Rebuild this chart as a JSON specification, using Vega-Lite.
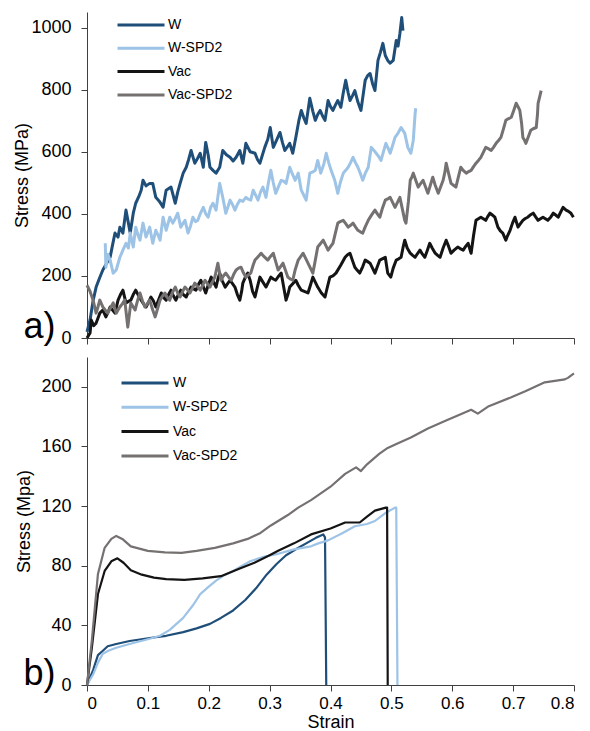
{
"$schema": "https://vega.github.io/schema/vega-lite/v6.json",
"padding": {"left": 13, "top": 12, "right": 2, "bottom": 0},
"spacing": 10,
"config": {
  "view": {"stroke": null},
  "axis": {"domainColor": "#404040", "tickColor": "#404040", "tickSize": 6, "labelFont": "Liberation Sans", "labelFontSize": 18, "labelColor": "#000000", "titleFont": "Liberation Sans", "titleFontSize": 18, "titleFontWeight": "normal", "titleColor": "#000000", "grid": false, "labelPadding": 10},
  "legend": {"labelFont": "Liberation Sans", "labelFontSize": 14, "labelColor": "#000000", "symbolType": "stroke", "symbolSize": 2209, "symbolStrokeWidth": 3, "labelOffset": 2, "clipHeight": 20, "rowPadding": 3.3, "padding": 0}
},
"resolve": {"legend": {"color": "independent"}},
"datasets": {
"top": [
{"series":"W","strain":0,"stress":20},{"series":"W","strain":0.005,"stress":58},{"series":"W","strain":0.01,"stress":120},{"series":"W","strain":0.015,"stress":164},{"series":"W","strain":0.02,"stress":190},{"series":"W","strain":0.026,"stress":219},{"series":"W","strain":0.032,"stress":240},{"series":"W","strain":0.038,"stress":260},{"series":"W","strain":0.042,"stress":300},{"series":"W","strain":0.046,"stress":338},{"series":"W","strain":0.051,"stress":325},{"series":"W","strain":0.054,"stress":357},{"series":"W","strain":0.059,"stress":338},{"series":"W","strain":0.064,"stress":412},{"series":"W","strain":0.068,"stress":370},{"series":"W","strain":0.071,"stress":338},{"series":"W","strain":0.076,"stress":402},{"series":"W","strain":0.08,"stress":434},{"series":"W","strain":0.085,"stress":455},{"series":"W","strain":0.089,"stress":476},{"series":"W","strain":0.092,"stress":508},{"series":"W","strain":0.097,"stress":490},{"series":"W","strain":0.103,"stress":498},{"series":"W","strain":0.108,"stress":498},{"series":"W","strain":0.113,"stress":453},{"series":"W","strain":0.119,"stress":440},{"series":"W","strain":0.125,"stress":421},{"series":"W","strain":0.13,"stress":476},{"series":"W","strain":0.138,"stress":486},{"series":"W","strain":0.145,"stress":434},{"series":"W","strain":0.149,"stress":470},{"series":"W","strain":0.153,"stress":498},{"series":"W","strain":0.158,"stress":531},{"series":"W","strain":0.163,"stress":550},{"series":"W","strain":0.167,"stress":575},{"series":"W","strain":0.171,"stress":604},{"series":"W","strain":0.177,"stress":563},{"series":"W","strain":0.182,"stress":580},{"series":"W","strain":0.186,"stress":595},{"series":"W","strain":0.191,"stress":550},{"series":"W","strain":0.195,"stress":630},{"series":"W","strain":0.199,"stress":590},{"series":"W","strain":0.202,"stress":550},{"series":"W","strain":0.207,"stress":540},{"series":"W","strain":0.212,"stress":531},{"series":"W","strain":0.218,"stress":550},{"series":"W","strain":0.223,"stress":604},{"series":"W","strain":0.229,"stress":590},{"series":"W","strain":0.235,"stress":582},{"series":"W","strain":0.24,"stress":570},{"series":"W","strain":0.245,"stress":582},{"series":"W","strain":0.251,"stress":604},{"series":"W","strain":0.256,"stress":563},{"series":"W","strain":0.261,"stress":627},{"series":"W","strain":0.268,"stress":600},{"series":"W","strain":0.276,"stress":595},{"series":"W","strain":0.28,"stress":575},{"series":"W","strain":0.284,"stress":563},{"series":"W","strain":0.292,"stress":614},{"series":"W","strain":0.297,"stress":640},{"series":"W","strain":0.301,"stress":678},{"series":"W","strain":0.306,"stress":614},{"series":"W","strain":0.312,"stress":640},{"series":"W","strain":0.317,"stress":662},{"series":"W","strain":0.321,"stress":630},{"series":"W","strain":0.325,"stress":604},{"series":"W","strain":0.333,"stress":627},{"series":"W","strain":0.338,"stress":595},{"series":"W","strain":0.343,"stress":646},{"series":"W","strain":0.348,"stress":700},{"series":"W","strain":0.352,"stress":733},{"series":"W","strain":0.356,"stress":710},{"series":"W","strain":0.36,"stress":691},{"series":"W","strain":0.366,"stress":772},{"series":"W","strain":0.371,"stress":730},{"series":"W","strain":0.375,"stress":701},{"series":"W","strain":0.379,"stress":720},{"series":"W","strain":0.383,"stress":733},{"series":"W","strain":0.387,"stress":715},{"series":"W","strain":0.391,"stress":701},{"series":"W","strain":0.396,"stress":765},{"series":"W","strain":0.4,"stress":745},{"series":"W","strain":0.404,"stress":733},{"series":"W","strain":0.408,"stress":750},{"series":"W","strain":0.412,"stress":765},{"series":"W","strain":0.417,"stress":743},{"series":"W","strain":0.421,"stress":790},{"series":"W","strain":0.425,"stress":830},{"series":"W","strain":0.429,"stress":790},{"series":"W","strain":0.432,"stress":765},{"series":"W","strain":0.436,"stress":780},{"series":"W","strain":0.44,"stress":797},{"series":"W","strain":0.445,"stress":760},{"series":"W","strain":0.45,"stress":733},{"series":"W","strain":0.457,"stress":830},{"series":"W","strain":0.461,"stress":845},{"series":"W","strain":0.465,"stress":852},{"series":"W","strain":0.469,"stress":820},{"series":"W","strain":0.473,"stress":797},{"series":"W","strain":0.478,"stress":894},{"series":"W","strain":0.482,"stress":920},{"series":"W","strain":0.486,"stress":949},{"series":"W","strain":0.49,"stress":910},{"series":"W","strain":0.494,"stress":894},{"series":"W","strain":0.498,"stress":885},{"series":"W","strain":0.503,"stress":894},{"series":"W","strain":0.508,"stress":958},{"series":"W","strain":0.511,"stress":940},{"series":"W","strain":0.514,"stress":981},{"series":"W","strain":0.517,"stress":1032},{"series":"W","strain":0.519,"stress":990},
{"series":"W-SPD2","strain":0.03,"stress":305},{"series":"W-SPD2","strain":0.031,"stress":228},{"series":"W-SPD2","strain":0.034,"stress":270},{"series":"W-SPD2","strain":0.038,"stress":251},{"series":"W-SPD2","strain":0.043,"stress":209},{"series":"W-SPD2","strain":0.048,"stress":219},{"series":"W-SPD2","strain":0.054,"stress":260},{"series":"W-SPD2","strain":0.059,"stress":283},{"series":"W-SPD2","strain":0.064,"stress":305},{"series":"W-SPD2","strain":0.068,"stress":290},{"series":"W-SPD2","strain":0.071,"stress":338},{"series":"W-SPD2","strain":0.076,"stress":293},{"series":"W-SPD2","strain":0.08,"stress":357},{"series":"W-SPD2","strain":0.084,"stress":330},{"series":"W-SPD2","strain":0.087,"stress":315},{"series":"W-SPD2","strain":0.092,"stress":370},{"series":"W-SPD2","strain":0.097,"stress":325},{"series":"W-SPD2","strain":0.103,"stress":357},{"series":"W-SPD2","strain":0.108,"stress":305},{"series":"W-SPD2","strain":0.113,"stress":347},{"series":"W-SPD2","strain":0.117,"stress":330},{"series":"W-SPD2","strain":0.12,"stress":315},{"series":"W-SPD2","strain":0.125,"stress":389},{"series":"W-SPD2","strain":0.13,"stress":347},{"series":"W-SPD2","strain":0.136,"stress":389},{"series":"W-SPD2","strain":0.141,"stress":370},{"series":"W-SPD2","strain":0.145,"stress":385},{"series":"W-SPD2","strain":0.149,"stress":402},{"series":"W-SPD2","strain":0.154,"stress":357},{"series":"W-SPD2","strain":0.158,"stress":370},{"series":"W-SPD2","strain":0.161,"stress":379},{"series":"W-SPD2","strain":0.166,"stress":338},{"series":"W-SPD2","strain":0.17,"stress":360},{"series":"W-SPD2","strain":0.174,"stress":389},{"series":"W-SPD2","strain":0.178,"stress":375},{"series":"W-SPD2","strain":0.182,"stress":379},{"series":"W-SPD2","strain":0.186,"stress":400},{"series":"W-SPD2","strain":0.191,"stress":421},{"series":"W-SPD2","strain":0.195,"stress":400},{"series":"W-SPD2","strain":0.199,"stress":389},{"series":"W-SPD2","strain":0.203,"stress":420},{"series":"W-SPD2","strain":0.207,"stress":434},{"series":"W-SPD2","strain":0.212,"stress":412},{"series":"W-SPD2","strain":0.218,"stress":498},{"series":"W-SPD2","strain":0.223,"stress":453},{"series":"W-SPD2","strain":0.228,"stress":402},{"series":"W-SPD2","strain":0.232,"stress":425},{"series":"W-SPD2","strain":0.235,"stress":444},{"series":"W-SPD2","strain":0.239,"stress":430},{"series":"W-SPD2","strain":0.243,"stress":412},{"series":"W-SPD2","strain":0.247,"stress":430},{"series":"W-SPD2","strain":0.251,"stress":444},{"series":"W-SPD2","strain":0.256,"stress":440},{"series":"W-SPD2","strain":0.261,"stress":453},{"series":"W-SPD2","strain":0.265,"stress":447},{"series":"W-SPD2","strain":0.269,"stress":444},{"series":"W-SPD2","strain":0.273,"stress":476},{"series":"W-SPD2","strain":0.277,"stress":460},{"series":"W-SPD2","strain":0.281,"stress":444},{"series":"W-SPD2","strain":0.285,"stress":470},{"series":"W-SPD2","strain":0.289,"stress":486},{"series":"W-SPD2","strain":0.294,"stress":453},{"series":"W-SPD2","strain":0.298,"stress":500},{"series":"W-SPD2","strain":0.302,"stress":540},{"series":"W-SPD2","strain":0.306,"stress":500},{"series":"W-SPD2","strain":0.31,"stress":466},{"series":"W-SPD2","strain":0.315,"stress":490},{"series":"W-SPD2","strain":0.319,"stress":508},{"series":"W-SPD2","strain":0.323,"stress":505},{"series":"W-SPD2","strain":0.327,"stress":498},{"series":"W-SPD2","strain":0.333,"stress":550},{"series":"W-SPD2","strain":0.337,"stress":530},{"series":"W-SPD2","strain":0.342,"stress":508},{"series":"W-SPD2","strain":0.347,"stress":531},{"series":"W-SPD2","strain":0.352,"stress":476},{"series":"W-SPD2","strain":0.356,"stress":460},{"series":"W-SPD2","strain":0.36,"stress":444},{"series":"W-SPD2","strain":0.366,"stress":531},{"series":"W-SPD2","strain":0.371,"stress":535},{"series":"W-SPD2","strain":0.375,"stress":540},{"series":"W-SPD2","strain":0.379,"stress":572},{"series":"W-SPD2","strain":0.384,"stress":531},{"series":"W-SPD2","strain":0.389,"stress":560},{"series":"W-SPD2","strain":0.393,"stress":595},{"series":"W-SPD2","strain":0.397,"stress":565},{"series":"W-SPD2","strain":0.401,"stress":540},{"series":"W-SPD2","strain":0.407,"stress":508},{"series":"W-SPD2","strain":0.412,"stress":466},{"series":"W-SPD2","strain":0.416,"stress":500},{"series":"W-SPD2","strain":0.421,"stress":531},{"series":"W-SPD2","strain":0.425,"stress":540},{"series":"W-SPD2","strain":0.429,"stress":550},{"series":"W-SPD2","strain":0.433,"stress":565},{"series":"W-SPD2","strain":0.437,"stress":582},{"series":"W-SPD2","strain":0.441,"stress":565},{"series":"W-SPD2","strain":0.445,"stress":550},{"series":"W-SPD2","strain":0.449,"stress":530},{"series":"W-SPD2","strain":0.453,"stress":508},{"series":"W-SPD2","strain":0.457,"stress":530},{"series":"W-SPD2","strain":0.462,"stress":550},{"series":"W-SPD2","strain":0.467,"stress":614},{"series":"W-SPD2","strain":0.471,"stress":605},{"series":"W-SPD2","strain":0.475,"stress":595},{"series":"W-SPD2","strain":0.479,"stress":585},{"series":"W-SPD2","strain":0.483,"stress":572},{"series":"W-SPD2","strain":0.487,"stress":600},{"series":"W-SPD2","strain":0.491,"stress":627},{"series":"W-SPD2","strain":0.495,"stress":610},{"series":"W-SPD2","strain":0.498,"stress":595},{"series":"W-SPD2","strain":0.502,"stress":620},{"series":"W-SPD2","strain":0.506,"stress":646},{"series":"W-SPD2","strain":0.511,"stress":660},{"series":"W-SPD2","strain":0.516,"stress":678},{"series":"W-SPD2","strain":0.522,"stress":659},{"series":"W-SPD2","strain":0.527,"stress":614},{"series":"W-SPD2","strain":0.532,"stress":595},{"series":"W-SPD2","strain":0.536,"stress":637},{"series":"W-SPD2","strain":0.539,"stress":723},{"series":"W-SPD2","strain":0.54,"stress":740},
{"series":"Vac","strain":0,"stress":0},{"series":"Vac","strain":0.005,"stress":16},{"series":"Vac","strain":0.007,"stress":58},{"series":"Vac","strain":0.011,"stress":40},{"series":"Vac","strain":0.015,"stress":48},{"series":"Vac","strain":0.021,"stress":80},{"series":"Vac","strain":0.026,"stress":90},{"series":"Vac","strain":0.031,"stress":68},{"series":"Vac","strain":0.035,"stress":85},{"series":"Vac","strain":0.038,"stress":100},{"series":"Vac","strain":0.042,"stress":90},{"series":"Vac","strain":0.046,"stress":80},{"series":"Vac","strain":0.051,"stress":122},{"series":"Vac","strain":0.055,"stress":140},{"series":"Vac","strain":0.059,"stress":154},{"series":"Vac","strain":0.064,"stress":113},{"series":"Vac","strain":0.068,"stress":118},{"series":"Vac","strain":0.072,"stress":122},{"series":"Vac","strain":0.076,"stress":140},{"series":"Vac","strain":0.08,"stress":154},{"series":"Vac","strain":0.085,"stress":135},{"series":"Vac","strain":0.089,"stress":122},{"series":"Vac","strain":0.093,"stress":110},{"series":"Vac","strain":0.097,"stress":100},{"series":"Vac","strain":0.101,"stress":115},{"series":"Vac","strain":0.105,"stress":132},{"series":"Vac","strain":0.109,"stress":120},{"series":"Vac","strain":0.113,"stress":100},{"series":"Vac","strain":0.118,"stress":125},{"series":"Vac","strain":0.122,"stress":145},{"series":"Vac","strain":0.126,"stress":130},{"series":"Vac","strain":0.13,"stress":122},{"series":"Vac","strain":0.134,"stress":140},{"series":"Vac","strain":0.138,"stress":154},{"series":"Vac","strain":0.142,"stress":135},{"series":"Vac","strain":0.146,"stress":122},{"series":"Vac","strain":0.15,"stress":140},{"series":"Vac","strain":0.154,"stress":154},{"series":"Vac","strain":0.158,"stress":140},{"series":"Vac","strain":0.163,"stress":132},{"series":"Vac","strain":0.167,"stress":150},{"series":"Vac","strain":0.171,"stress":164},{"series":"Vac","strain":0.175,"stress":158},{"series":"Vac","strain":0.179,"stress":154},{"series":"Vac","strain":0.183,"stress":172},{"series":"Vac","strain":0.187,"stress":186},{"series":"Vac","strain":0.191,"stress":165},{"series":"Vac","strain":0.195,"stress":145},{"series":"Vac","strain":0.199,"stress":170},{"series":"Vac","strain":0.204,"stress":196},{"series":"Vac","strain":0.208,"stress":180},{"series":"Vac","strain":0.212,"stress":164},{"series":"Vac","strain":0.215,"stress":190},{"series":"Vac","strain":0.218,"stress":209},{"series":"Vac","strain":0.222,"stress":185},{"series":"Vac","strain":0.227,"stress":164},{"series":"Vac","strain":0.231,"stress":175},{"series":"Vac","strain":0.235,"stress":186},{"series":"Vac","strain":0.239,"stress":175},{"series":"Vac","strain":0.243,"stress":164},{"series":"Vac","strain":0.247,"stress":140},{"series":"Vac","strain":0.251,"stress":122},{"series":"Vac","strain":0.254,"stress":150},{"series":"Vac","strain":0.256,"stress":177},{"series":"Vac","strain":0.26,"stress":195},{"series":"Vac","strain":0.264,"stress":209},{"series":"Vac","strain":0.268,"stress":186},{"series":"Vac","strain":0.272,"stress":150},{"series":"Vac","strain":0.276,"stress":132},{"series":"Vac","strain":0.28,"stress":165},{"series":"Vac","strain":0.284,"stress":196},{"series":"Vac","strain":0.289,"stress":180},{"series":"Vac","strain":0.294,"stress":164},{"series":"Vac","strain":0.298,"stress":180},{"series":"Vac","strain":0.302,"stress":196},{"series":"Vac","strain":0.306,"stress":190},{"series":"Vac","strain":0.31,"stress":186},{"series":"Vac","strain":0.315,"stress":200},{"series":"Vac","strain":0.319,"stress":209},{"series":"Vac","strain":0.323,"stress":165},{"series":"Vac","strain":0.327,"stress":122},{"series":"Vac","strain":0.33,"stress":140},{"series":"Vac","strain":0.333,"stress":164},{"series":"Vac","strain":0.338,"stress":175},{"series":"Vac","strain":0.343,"stress":186},{"series":"Vac","strain":0.347,"stress":170},{"series":"Vac","strain":0.352,"stress":154},{"series":"Vac","strain":0.357,"stress":150},{"series":"Vac","strain":0.363,"stress":145},{"series":"Vac","strain":0.367,"stress":170},{"series":"Vac","strain":0.371,"stress":196},{"series":"Vac","strain":0.375,"stress":180},{"series":"Vac","strain":0.379,"stress":164},{"series":"Vac","strain":0.385,"stress":145},{"series":"Vac","strain":0.391,"stress":132},{"series":"Vac","strain":0.395,"stress":165},{"series":"Vac","strain":0.399,"stress":196},{"series":"Vac","strain":0.404,"stress":200},{"series":"Vac","strain":0.409,"stress":209},{"series":"Vac","strain":0.417,"stress":235},{"series":"Vac","strain":0.424,"stress":260},{"series":"Vac","strain":0.428,"stress":268},{"series":"Vac","strain":0.432,"stress":273},{"series":"Vac","strain":0.436,"stress":250},{"series":"Vac","strain":0.44,"stress":228},{"series":"Vac","strain":0.444,"stress":218},{"series":"Vac","strain":0.448,"stress":209},{"series":"Vac","strain":0.453,"stress":230},{"series":"Vac","strain":0.457,"stress":251},{"series":"Vac","strain":0.461,"stress":246},{"series":"Vac","strain":0.465,"stress":241},{"series":"Vac","strain":0.469,"stress":225},{"series":"Vac","strain":0.473,"stress":209},{"series":"Vac","strain":0.477,"stress":230},{"series":"Vac","strain":0.481,"stress":251},{"series":"Vac","strain":0.485,"stress":255},{"series":"Vac","strain":0.49,"stress":260},{"series":"Vac","strain":0.494,"stress":209},{"series":"Vac","strain":0.499,"stress":196},{"series":"Vac","strain":0.503,"stress":225},{"series":"Vac","strain":0.508,"stress":251},{"series":"Vac","strain":0.512,"stress":255},{"series":"Vac","strain":0.516,"stress":260},{"series":"Vac","strain":0.519,"stress":290},{"series":"Vac","strain":0.522,"stress":315},{"series":"Vac","strain":0.526,"stress":290},{"series":"Vac","strain":0.531,"stress":273},{"series":"Vac","strain":0.535,"stress":266},{"series":"Vac","strain":0.539,"stress":260},{"series":"Vac","strain":0.543,"stress":272},{"series":"Vac","strain":0.547,"stress":283},{"series":"Vac","strain":0.551,"stress":270},{"series":"Vac","strain":0.555,"stress":260},{"series":"Vac","strain":0.559,"stress":282},{"series":"Vac","strain":0.563,"stress":305},{"series":"Vac","strain":0.567,"stress":290},{"series":"Vac","strain":0.572,"stress":273},{"series":"Vac","strain":0.576,"stress":266},{"series":"Vac","strain":0.58,"stress":260},{"series":"Vac","strain":0.585,"stress":290},{"series":"Vac","strain":0.59,"stress":315},{"series":"Vac","strain":0.594,"stress":295},{"series":"Vac","strain":0.598,"stress":273},{"series":"Vac","strain":0.603,"stress":283},{"series":"Vac","strain":0.609,"stress":293},{"series":"Vac","strain":0.613,"stress":288},{"series":"Vac","strain":0.618,"stress":283},{"series":"Vac","strain":0.622,"stress":295},{"series":"Vac","strain":0.626,"stress":305},{"series":"Vac","strain":0.631,"stress":273},{"series":"Vac","strain":0.635,"stress":330},{"series":"Vac","strain":0.639,"stress":379},{"series":"Vac","strain":0.643,"stress":384},{"series":"Vac","strain":0.647,"stress":389},{"series":"Vac","strain":0.651,"stress":384},{"series":"Vac","strain":0.655,"stress":379},{"series":"Vac","strain":0.658,"stress":390},{"series":"Vac","strain":0.662,"stress":402},{"series":"Vac","strain":0.666,"stress":396},{"series":"Vac","strain":0.67,"stress":389},{"series":"Vac","strain":0.675,"stress":357},{"series":"Vac","strain":0.679,"stress":345},{"series":"Vac","strain":0.683,"stress":338},{"series":"Vac","strain":0.688,"stress":315},{"series":"Vac","strain":0.691,"stress":330},{"series":"Vac","strain":0.695,"stress":347},{"series":"Vac","strain":0.699,"stress":370},{"series":"Vac","strain":0.703,"stress":389},{"series":"Vac","strain":0.708,"stress":357},{"series":"Vac","strain":0.712,"stress":368},{"series":"Vac","strain":0.716,"stress":379},{"series":"Vac","strain":0.72,"stress":385},{"series":"Vac","strain":0.724,"stress":389},{"series":"Vac","strain":0.728,"stress":396},{"series":"Vac","strain":0.733,"stress":402},{"series":"Vac","strain":0.737,"stress":390},{"series":"Vac","strain":0.741,"stress":379},{"series":"Vac","strain":0.745,"stress":384},{"series":"Vac","strain":0.749,"stress":389},{"series":"Vac","strain":0.753,"stress":384},{"series":"Vac","strain":0.757,"stress":379},{"series":"Vac","strain":0.762,"stress":390},{"series":"Vac","strain":0.766,"stress":402},{"series":"Vac","strain":0.77,"stress":396},{"series":"Vac","strain":0.774,"stress":389},{"series":"Vac","strain":0.778,"stress":405},{"series":"Vac","strain":0.782,"stress":421},{"series":"Vac","strain":0.787,"stress":412},{"series":"Vac","strain":0.791,"stress":408},{"series":"Vac","strain":0.795,"stress":402},{"series":"Vac","strain":0.799,"stress":389},
{"series":"Vac-SPD2","strain":0,"stress":170},{"series":"Vac-SPD2","strain":0.005,"stress":150},{"series":"Vac-SPD2","strain":0.01,"stress":122},{"series":"Vac-SPD2","strain":0.015,"stress":80},{"series":"Vac-SPD2","strain":0.018,"stress":100},{"series":"Vac-SPD2","strain":0.021,"stress":122},{"series":"Vac-SPD2","strain":0.026,"stress":100},{"series":"Vac-SPD2","strain":0.03,"stress":90},{"series":"Vac-SPD2","strain":0.034,"stress":80},{"series":"Vac-SPD2","strain":0.038,"stress":95},{"series":"Vac-SPD2","strain":0.043,"stress":113},{"series":"Vac-SPD2","strain":0.048,"stress":80},{"series":"Vac-SPD2","strain":0.051,"stress":90},{"series":"Vac-SPD2","strain":0.054,"stress":100},{"series":"Vac-SPD2","strain":0.058,"stress":110},{"series":"Vac-SPD2","strain":0.062,"stress":122},{"series":"Vac-SPD2","strain":0.067,"stress":35},{"series":"Vac-SPD2","strain":0.072,"stress":113},{"series":"Vac-SPD2","strain":0.076,"stress":100},{"series":"Vac-SPD2","strain":0.079,"stress":90},{"series":"Vac-SPD2","strain":0.083,"stress":120},{"series":"Vac-SPD2","strain":0.087,"stress":145},{"series":"Vac-SPD2","strain":0.091,"stress":120},{"series":"Vac-SPD2","strain":0.095,"stress":100},{"series":"Vac-SPD2","strain":0.099,"stress":110},{"series":"Vac-SPD2","strain":0.103,"stress":122},{"series":"Vac-SPD2","strain":0.108,"stress":90},{"series":"Vac-SPD2","strain":0.112,"stress":68},{"series":"Vac-SPD2","strain":0.116,"stress":95},{"series":"Vac-SPD2","strain":0.12,"stress":122},{"series":"Vac-SPD2","strain":0.124,"stress":135},{"series":"Vac-SPD2","strain":0.128,"stress":145},{"series":"Vac-SPD2","strain":0.132,"stress":130},{"series":"Vac-SPD2","strain":0.136,"stress":122},{"series":"Vac-SPD2","strain":0.14,"stress":145},{"series":"Vac-SPD2","strain":0.145,"stress":164},{"series":"Vac-SPD2","strain":0.149,"stress":145},{"series":"Vac-SPD2","strain":0.153,"stress":132},{"series":"Vac-SPD2","strain":0.157,"stress":150},{"series":"Vac-SPD2","strain":0.161,"stress":164},{"series":"Vac-SPD2","strain":0.165,"stress":155},{"series":"Vac-SPD2","strain":0.169,"stress":145},{"series":"Vac-SPD2","strain":0.173,"stress":160},{"series":"Vac-SPD2","strain":0.177,"stress":177},{"series":"Vac-SPD2","strain":0.182,"stress":165},{"series":"Vac-SPD2","strain":0.186,"stress":154},{"series":"Vac-SPD2","strain":0.19,"stress":170},{"series":"Vac-SPD2","strain":0.194,"stress":186},{"series":"Vac-SPD2","strain":0.198,"stress":175},{"series":"Vac-SPD2","strain":0.202,"stress":164},{"series":"Vac-SPD2","strain":0.206,"stress":180},{"series":"Vac-SPD2","strain":0.21,"stress":196},{"series":"Vac-SPD2","strain":0.215,"stress":241},{"series":"Vac-SPD2","strain":0.22,"stress":186},{"series":"Vac-SPD2","strain":0.224,"stress":200},{"series":"Vac-SPD2","strain":0.228,"stress":209},{"series":"Vac-SPD2","strain":0.233,"stress":195},{"series":"Vac-SPD2","strain":0.237,"stress":186},{"series":"Vac-SPD2","strain":0.241,"stress":205},{"series":"Vac-SPD2","strain":0.245,"stress":219},{"series":"Vac-SPD2","strain":0.249,"stress":225},{"series":"Vac-SPD2","strain":0.253,"stress":228},{"series":"Vac-SPD2","strain":0.257,"stress":210},{"series":"Vac-SPD2","strain":0.261,"stress":196},{"series":"Vac-SPD2","strain":0.265,"stress":203},{"series":"Vac-SPD2","strain":0.269,"stress":209},{"series":"Vac-SPD2","strain":0.273,"stress":235},{"series":"Vac-SPD2","strain":0.276,"stress":251},{"series":"Vac-SPD2","strain":0.281,"stress":262},{"series":"Vac-SPD2","strain":0.286,"stress":273},{"series":"Vac-SPD2","strain":0.291,"stress":262},{"series":"Vac-SPD2","strain":0.297,"stress":251},{"series":"Vac-SPD2","strain":0.301,"stress":262},{"series":"Vac-SPD2","strain":0.306,"stress":273},{"series":"Vac-SPD2","strain":0.31,"stress":246},{"series":"Vac-SPD2","strain":0.314,"stress":219},{"series":"Vac-SPD2","strain":0.318,"stress":230},{"series":"Vac-SPD2","strain":0.322,"stress":241},{"series":"Vac-SPD2","strain":0.326,"stress":218},{"series":"Vac-SPD2","strain":0.33,"stress":196},{"series":"Vac-SPD2","strain":0.334,"stress":190},{"series":"Vac-SPD2","strain":0.338,"stress":186},{"series":"Vac-SPD2","strain":0.342,"stress":220},{"series":"Vac-SPD2","strain":0.347,"stress":251},{"series":"Vac-SPD2","strain":0.351,"stress":262},{"series":"Vac-SPD2","strain":0.355,"stress":273},{"series":"Vac-SPD2","strain":0.359,"stress":257},{"series":"Vac-SPD2","strain":0.363,"stress":241},{"series":"Vac-SPD2","strain":0.367,"stress":225},{"series":"Vac-SPD2","strain":0.371,"stress":209},{"series":"Vac-SPD2","strain":0.375,"stress":250},{"series":"Vac-SPD2","strain":0.379,"stress":293},{"series":"Vac-SPD2","strain":0.384,"stress":305},{"series":"Vac-SPD2","strain":0.388,"stress":315},{"series":"Vac-SPD2","strain":0.392,"stress":299},{"series":"Vac-SPD2","strain":0.396,"stress":283},{"series":"Vac-SPD2","strain":0.4,"stress":294},{"series":"Vac-SPD2","strain":0.404,"stress":305},{"series":"Vac-SPD2","strain":0.408,"stress":338},{"series":"Vac-SPD2","strain":0.412,"stress":370},{"series":"Vac-SPD2","strain":0.416,"stress":375},{"series":"Vac-SPD2","strain":0.421,"stress":379},{"series":"Vac-SPD2","strain":0.425,"stress":368},{"series":"Vac-SPD2","strain":0.429,"stress":357},{"series":"Vac-SPD2","strain":0.433,"stress":363},{"series":"Vac-SPD2","strain":0.437,"stress":370},{"series":"Vac-SPD2","strain":0.441,"stress":358},{"series":"Vac-SPD2","strain":0.445,"stress":347},{"series":"Vac-SPD2","strain":0.449,"stress":342},{"series":"Vac-SPD2","strain":0.453,"stress":338},{"series":"Vac-SPD2","strain":0.457,"stress":358},{"series":"Vac-SPD2","strain":0.462,"stress":379},{"series":"Vac-SPD2","strain":0.467,"stress":395},{"series":"Vac-SPD2","strain":0.473,"stress":412},{"series":"Vac-SPD2","strain":0.477,"stress":400},{"series":"Vac-SPD2","strain":0.481,"stress":389},{"series":"Vac-SPD2","strain":0.485,"stress":416},{"series":"Vac-SPD2","strain":0.49,"stress":444},{"series":"Vac-SPD2","strain":0.494,"stress":448},{"series":"Vac-SPD2","strain":0.498,"stress":453},{"series":"Vac-SPD2","strain":0.502,"stress":437},{"series":"Vac-SPD2","strain":0.506,"stress":421},{"series":"Vac-SPD2","strain":0.51,"stress":437},{"series":"Vac-SPD2","strain":0.514,"stress":453},{"series":"Vac-SPD2","strain":0.518,"stress":416},{"series":"Vac-SPD2","strain":0.522,"stress":379},{"series":"Vac-SPD2","strain":0.524,"stress":370},{"series":"Vac-SPD2","strain":0.528,"stress":440},{"series":"Vac-SPD2","strain":0.531,"stress":508},{"series":"Vac-SPD2","strain":0.534,"stress":520},{"series":"Vac-SPD2","strain":0.536,"stress":531},{"series":"Vac-SPD2","strain":0.54,"stress":508},{"series":"Vac-SPD2","strain":0.544,"stress":486},{"series":"Vac-SPD2","strain":0.548,"stress":497},{"series":"Vac-SPD2","strain":0.552,"stress":508},{"series":"Vac-SPD2","strain":0.556,"stress":487},{"series":"Vac-SPD2","strain":0.56,"stress":466},{"series":"Vac-SPD2","strain":0.564,"stress":492},{"series":"Vac-SPD2","strain":0.568,"stress":518},{"series":"Vac-SPD2","strain":0.572,"stress":492},{"series":"Vac-SPD2","strain":0.577,"stress":466},{"series":"Vac-SPD2","strain":0.581,"stress":487},{"series":"Vac-SPD2","strain":0.585,"stress":508},{"series":"Vac-SPD2","strain":0.588,"stress":535},{"series":"Vac-SPD2","strain":0.59,"stress":563},{"series":"Vac-SPD2","strain":0.594,"stress":530},{"series":"Vac-SPD2","strain":0.598,"stress":498},{"series":"Vac-SPD2","strain":0.602,"stress":492},{"series":"Vac-SPD2","strain":0.606,"stress":486},{"series":"Vac-SPD2","strain":0.61,"stress":518},{"series":"Vac-SPD2","strain":0.614,"stress":550},{"series":"Vac-SPD2","strain":0.618,"stress":540},{"series":"Vac-SPD2","strain":0.623,"stress":531},{"series":"Vac-SPD2","strain":0.627,"stress":536},{"series":"Vac-SPD2","strain":0.631,"stress":540},{"series":"Vac-SPD2","strain":0.635,"stress":552},{"series":"Vac-SPD2","strain":0.639,"stress":563},{"series":"Vac-SPD2","strain":0.643,"stress":572},{"series":"Vac-SPD2","strain":0.647,"stress":582},{"series":"Vac-SPD2","strain":0.651,"stress":598},{"series":"Vac-SPD2","strain":0.655,"stress":614},{"series":"Vac-SPD2","strain":0.66,"stress":609},{"series":"Vac-SPD2","strain":0.664,"stress":604},{"series":"Vac-SPD2","strain":0.668,"stress":615},{"series":"Vac-SPD2","strain":0.672,"stress":627},{"series":"Vac-SPD2","strain":0.676,"stress":636},{"series":"Vac-SPD2","strain":0.68,"stress":646},{"series":"Vac-SPD2","strain":0.684,"stress":673},{"series":"Vac-SPD2","strain":0.688,"stress":701},{"series":"Vac-SPD2","strain":0.692,"stress":706},{"series":"Vac-SPD2","strain":0.697,"stress":711},{"series":"Vac-SPD2","strain":0.701,"stress":733},{"series":"Vac-SPD2","strain":0.705,"stress":756},{"series":"Vac-SPD2","strain":0.708,"stress":745},{"series":"Vac-SPD2","strain":0.711,"stress":733},{"series":"Vac-SPD2","strain":0.714,"stress":690},{"series":"Vac-SPD2","strain":0.716,"stress":646},{"series":"Vac-SPD2","strain":0.719,"stress":636},{"series":"Vac-SPD2","strain":0.721,"stress":627},{"series":"Vac-SPD2","strain":0.725,"stress":648},{"series":"Vac-SPD2","strain":0.729,"stress":669},{"series":"Vac-SPD2","strain":0.733,"stress":674},{"series":"Vac-SPD2","strain":0.738,"stress":678},{"series":"Vac-SPD2","strain":0.74,"stress":720},{"series":"Vac-SPD2","strain":0.741,"stress":756},{"series":"Vac-SPD2","strain":0.744,"stress":780},{"series":"Vac-SPD2","strain":0.746,"stress":797}
],
"bottom": [
{"series":"W","strain":0,"stress":0},{"series":"W","strain":0.01,"stress":10},{"series":"W","strain":0.018,"stress":20},{"series":"W","strain":0.026,"stress":23},{"series":"W","strain":0.034,"stress":26},{"series":"W","strain":0.048,"stress":27.5},{"series":"W","strain":0.07,"stress":29.5},{"series":"W","strain":0.103,"stress":31.5},{"series":"W","strain":0.13,"stress":33},{"series":"W","strain":0.158,"stress":35.5},{"series":"W","strain":0.18,"stress":38},{"series":"W","strain":0.202,"stress":41},{"series":"W","strain":0.22,"stress":45},{"series":"W","strain":0.24,"stress":50},{"series":"W","strain":0.26,"stress":57},{"series":"W","strain":0.278,"stress":65},{"series":"W","strain":0.295,"stress":74},{"series":"W","strain":0.311,"stress":81},{"series":"W","strain":0.327,"stress":87},{"series":"W","strain":0.343,"stress":91},{"series":"W","strain":0.36,"stress":95},{"series":"W","strain":0.376,"stress":98.7},{"series":"W","strain":0.388,"stress":101},{"series":"W","strain":0.391,"stress":99},{"series":"W","strain":0.392,"stress":50},{"series":"W","strain":0.393,"stress":0},
{"series":"W-SPD2","strain":0,"stress":0},{"series":"W-SPD2","strain":0.01,"stress":7},{"series":"W-SPD2","strain":0.018,"stress":15},{"series":"W-SPD2","strain":0.026,"stress":21},{"series":"W-SPD2","strain":0.035,"stress":23},{"series":"W-SPD2","strain":0.048,"stress":25},{"series":"W-SPD2","strain":0.07,"stress":27.5},{"series":"W-SPD2","strain":0.103,"stress":31},{"series":"W-SPD2","strain":0.12,"stress":33},{"series":"W-SPD2","strain":0.136,"stress":37},{"series":"W-SPD2","strain":0.158,"stress":45},{"series":"W-SPD2","strain":0.175,"stress":54},{"series":"W-SPD2","strain":0.186,"stress":61},{"series":"W-SPD2","strain":0.2,"stress":66},{"series":"W-SPD2","strain":0.212,"stress":70},{"series":"W-SPD2","strain":0.225,"stress":73.5},{"series":"W-SPD2","strain":0.24,"stress":76.5},{"series":"W-SPD2","strain":0.255,"stress":80},{"series":"W-SPD2","strain":0.268,"stress":83},{"series":"W-SPD2","strain":0.29,"stress":86},{"series":"W-SPD2","strain":0.314,"stress":88},{"series":"W-SPD2","strain":0.34,"stress":91},{"series":"W-SPD2","strain":0.368,"stress":93},{"series":"W-SPD2","strain":0.38,"stress":95},{"series":"W-SPD2","strain":0.396,"stress":97},{"series":"W-SPD2","strain":0.42,"stress":102},{"series":"W-SPD2","strain":0.44,"stress":106.5},{"series":"W-SPD2","strain":0.46,"stress":108},{"series":"W-SPD2","strain":0.473,"stress":110},{"series":"W-SPD2","strain":0.489,"stress":115},{"series":"W-SPD2","strain":0.506,"stress":119},{"series":"W-SPD2","strain":0.508,"stress":119},{"series":"W-SPD2","strain":0.509,"stress":60},{"series":"W-SPD2","strain":0.51,"stress":0},
{"series":"Vac","strain":0,"stress":0},{"series":"Vac","strain":0.008,"stress":25},{"series":"Vac","strain":0.018,"stress":61},{"series":"Vac","strain":0.029,"stress":76.5},{"series":"Vac","strain":0.04,"stress":83},{"series":"Vac","strain":0.05,"stress":85},{"series":"Vac","strain":0.06,"stress":82},{"series":"Vac","strain":0.072,"stress":77},{"series":"Vac","strain":0.09,"stress":74},{"series":"Vac","strain":0.11,"stress":72},{"series":"Vac","strain":0.13,"stress":71},{"series":"Vac","strain":0.16,"stress":70.5},{"series":"Vac","strain":0.19,"stress":71.5},{"series":"Vac","strain":0.22,"stress":73},{"series":"Vac","strain":0.25,"stress":78},{"series":"Vac","strain":0.275,"stress":82},{"series":"Vac","strain":0.3,"stress":87},{"series":"Vac","strain":0.314,"stress":90},{"series":"Vac","strain":0.34,"stress":95},{"series":"Vac","strain":0.368,"stress":101},{"series":"Vac","strain":0.4,"stress":105},{"series":"Vac","strain":0.424,"stress":109},{"series":"Vac","strain":0.448,"stress":109},{"series":"Vac","strain":0.46,"stress":113},{"series":"Vac","strain":0.473,"stress":117},{"series":"Vac","strain":0.491,"stress":119},{"series":"Vac","strain":0.493,"stress":119},{"series":"Vac","strain":0.494,"stress":0},
{"series":"Vac-SPD2","strain":0,"stress":0},{"series":"Vac-SPD2","strain":0.008,"stress":30},{"series":"Vac-SPD2","strain":0.018,"stress":74.5},{"series":"Vac-SPD2","strain":0.029,"stress":92},{"series":"Vac-SPD2","strain":0.04,"stress":98},{"series":"Vac-SPD2","strain":0.048,"stress":100},{"series":"Vac-SPD2","strain":0.058,"stress":98},{"series":"Vac-SPD2","strain":0.072,"stress":93},{"series":"Vac-SPD2","strain":0.1,"stress":90},{"series":"Vac-SPD2","strain":0.128,"stress":89},{"series":"Vac-SPD2","strain":0.155,"stress":88.6},{"series":"Vac-SPD2","strain":0.18,"stress":90},{"series":"Vac-SPD2","strain":0.21,"stress":92},{"series":"Vac-SPD2","strain":0.24,"stress":95},{"series":"Vac-SPD2","strain":0.264,"stress":98},{"series":"Vac-SPD2","strain":0.285,"stress":102},{"series":"Vac-SPD2","strain":0.302,"stress":107},{"series":"Vac-SPD2","strain":0.314,"stress":110},{"series":"Vac-SPD2","strain":0.33,"stress":114},{"series":"Vac-SPD2","strain":0.347,"stress":119},{"series":"Vac-SPD2","strain":0.368,"stress":124},{"series":"Vac-SPD2","strain":0.4,"stress":133},{"series":"Vac-SPD2","strain":0.424,"stress":141.6},{"series":"Vac-SPD2","strain":0.442,"stress":146},{"series":"Vac-SPD2","strain":0.45,"stress":143.5},{"series":"Vac-SPD2","strain":0.46,"stress":148},{"series":"Vac-SPD2","strain":0.48,"stress":155},{"series":"Vac-SPD2","strain":0.494,"stress":159},{"series":"Vac-SPD2","strain":0.51,"stress":162},{"series":"Vac-SPD2","strain":0.532,"stress":166},{"series":"Vac-SPD2","strain":0.56,"stress":172},{"series":"Vac-SPD2","strain":0.588,"stress":177},{"series":"Vac-SPD2","strain":0.61,"stress":181},{"series":"Vac-SPD2","strain":0.631,"stress":184.6},{"series":"Vac-SPD2","strain":0.642,"stress":182},{"series":"Vac-SPD2","strain":0.66,"stress":187},{"series":"Vac-SPD2","strain":0.697,"stress":193},{"series":"Vac-SPD2","strain":0.72,"stress":197},{"series":"Vac-SPD2","strain":0.752,"stress":203},{"series":"Vac-SPD2","strain":0.785,"stress":205},{"series":"Vac-SPD2","strain":0.79,"stress":206},{"series":"Vac-SPD2","strain":0.8,"stress":209}
],
"labA": [{"label":"a)","strain":-0.078,"stress":0}],
"labB": [{"label":"b)","strain":-0.078,"stress":0}]
},
"vconcat": [
{
  "width": 487, "height": 326,
  "layer": [
    {
      "data": {"name": "top"},
      "mark": {"type": "line", "strokeWidth": 3, "strokeJoin": "round"},
      "encoding": {
        "x": {"field": "strain", "type": "quantitative", "scale": {"domain": [0, 0.8], "nice": false}, "axis": {"values": [0,0.1,0.2,0.3,0.4,0.5,0.6,0.7,0.8], "labels": false, "title": null}},
        "y": {"field": "stress", "type": "quantitative", "scale": {"domain": [0, 1050], "nice": false}, "axis": {"values": [0,200,400,600,800,1000], "format": "d", "title": "Stress (MPa)", "titlePadding": -1}},
        "color": {"field": "series", "type": "nominal", "scale": {"domain": ["W","W-SPD2","Vac","Vac-SPD2"], "range": ["#1f4e79","#9dc3e6","#141414","#767171"]}, "legend": {"title": null, "orient": "none", "legendX": 29, "legendY": 3}}
      }
    },
    {
      "data": {"name": "labA"},
      "mark": {"type": "text", "font": "Liberation Sans", "fontSize": 36, "align": "center", "baseline": "alphabetic", "color": "#000000"},
      "encoding": {
        "x": {"field": "strain", "type": "quantitative"},
        "y": {"field": "stress", "type": "quantitative"},
        "text": {"field": "label"}
      }
    }
  ]
},
{
  "width": 487, "height": 328,
  "layer": [
    {
      "data": {"name": "bottom"},
      "mark": {"type": "line", "strokeWidth": 2.2, "strokeJoin": "round"},
      "encoding": {
        "x": {"field": "strain", "type": "quantitative", "scale": {"domain": [0, 0.8], "nice": false}, "axis": {"values": [0,0.1,0.2,0.3,0.4,0.5,0.6,0.7,0.8], "format": ".1~f", "title": "Strain", "titlePadding": 2, "labelPadding": 4, "labelFontSize": 17}},
        "y": {"field": "stress", "type": "quantitative", "scale": {"domain": [0, 220], "nice": false}, "axis": {"values": [0,40,80,120,160,200], "title": "Stress (Mpa)", "titlePadding": 7}},
        "color": {"field": "series", "type": "nominal", "scale": {"domain": ["W","W-SPD2","Vac","Vac-SPD2"], "range": ["#1f4e79","#9dc3e6","#141414","#767171"]}, "legend": {"title": null, "orient": "none", "legendX": 33, "legendY": 16, "rowPadding": 4.3, "labelOffset": 3}}
      }
    },
    {
      "data": {"name": "labB"},
      "mark": {"type": "text", "font": "Liberation Sans", "fontSize": 36, "align": "center", "baseline": "alphabetic", "color": "#000000"},
      "encoding": {
        "x": {"field": "strain", "type": "quantitative"},
        "y": {"field": "stress", "type": "quantitative"},
        "text": {"field": "label"}
      }
    }
  ]
}
]
}
